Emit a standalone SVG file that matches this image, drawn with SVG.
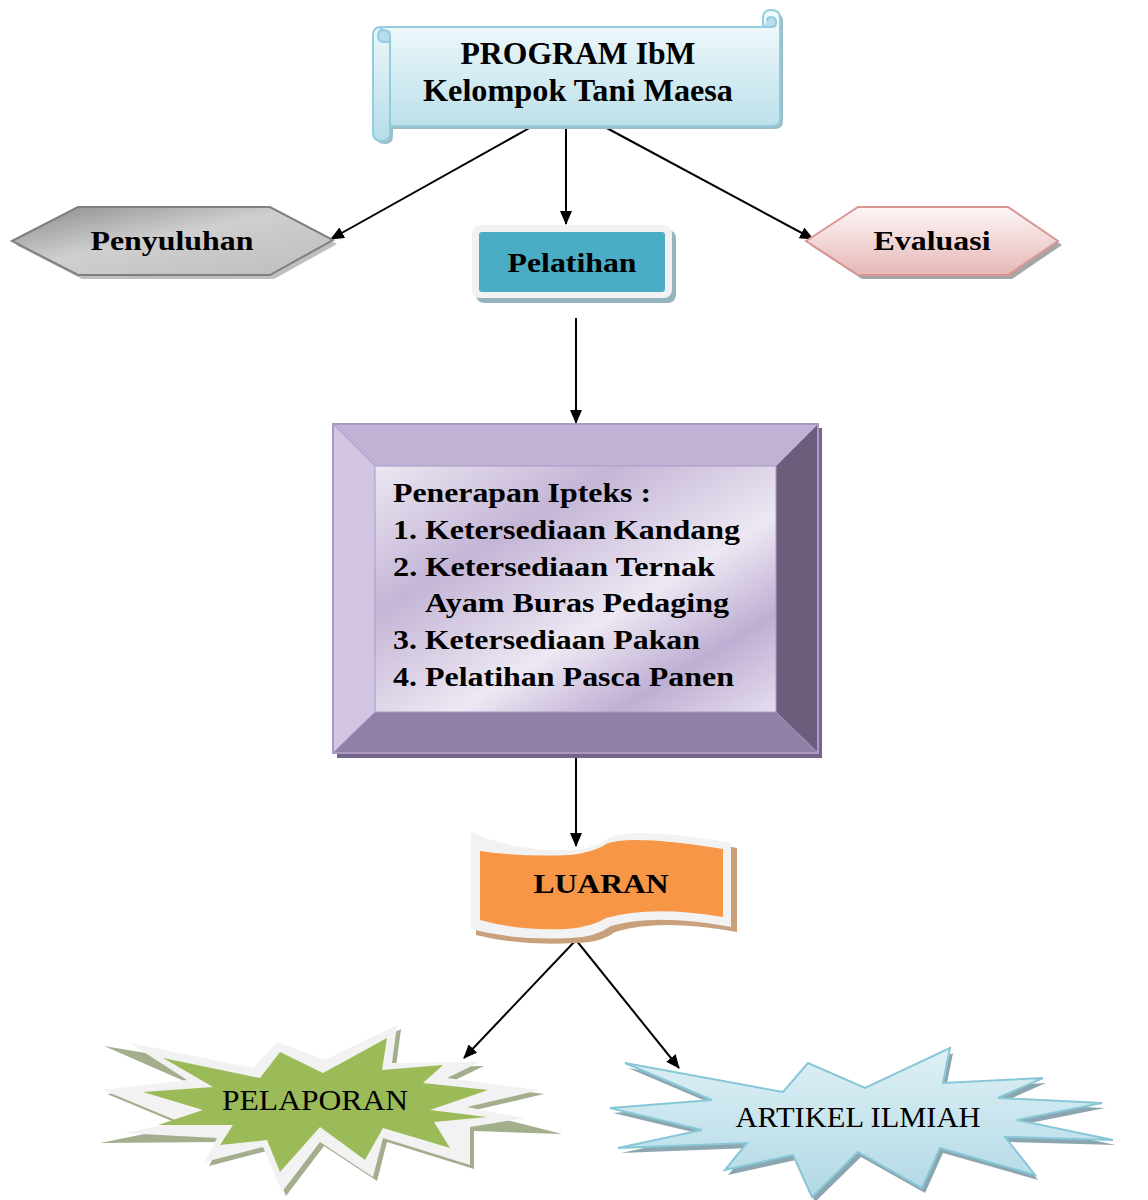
<svg xmlns="http://www.w3.org/2000/svg" width="1148" height="1200" viewBox="0 0 1148 1200">
<defs>
<style>
.tb{font-family:"Liberation Serif","Times New Roman",serif;font-weight:bold;fill:#000}
.tr{font-family:"Liberation Serif","Times New Roman",serif;fill:#000}
.con{stroke:#000;stroke-width:2;fill:none}
</style>
<marker id="ah" viewBox="0 0 14 12" refX="13" refY="6" markerWidth="14" markerHeight="12" markerUnits="userSpaceOnUse" orient="auto">
<path d="M0,0 L14,6 L0,12 Z" fill="#000"/>
</marker>
<linearGradient id="gScroll" x1="0" y1="0" x2="0" y2="1">
<stop offset="0" stop-color="#f4fbfd"/>
<stop offset="1" stop-color="#b6dde8"/>
</linearGradient>
<linearGradient id="gGray" x1="0" y1="0" x2="1" y2="1">
<stop offset="0" stop-color="#8a8a8a"/>
<stop offset="0.45" stop-color="#cfcfcf"/>
<stop offset="1" stop-color="#bdbdbd"/>
</linearGradient>
<linearGradient id="gPink" x1="0" y1="0" x2="0" y2="1">
<stop offset="0" stop-color="#fdf6f6"/>
<stop offset="1" stop-color="#e5b8b7"/>
</linearGradient>
<linearGradient id="gInner" x1="0" y1="0" x2="1" y2="1">
<stop offset="0" stop-color="#ece7f2"/>
<stop offset="0.3" stop-color="#c4b5d6"/>
<stop offset="0.6" stop-color="#ede8f3"/>
<stop offset="0.8" stop-color="#bfaed3"/>
<stop offset="1" stop-color="#e5deee"/>
</linearGradient>
<linearGradient id="gBlue" x1="0" y1="0" x2="0" y2="1">
<stop offset="0" stop-color="#def0f5"/>
<stop offset="1" stop-color="#b2d9e5"/>
</linearGradient>
</defs>

<g id="connectors">
<line class="con" x1="533" y1="126" x2="331" y2="239" marker-end="url(#ah)"/>
<line class="con" x1="566" y1="126" x2="566" y2="224" marker-end="url(#ah)"/>
<line class="con" x1="603" y1="126" x2="813" y2="239" marker-end="url(#ah)"/>
<line class="con" x1="576" y1="318" x2="576" y2="423" marker-end="url(#ah)"/>
<line class="con" x1="576" y1="757" x2="576" y2="846" marker-end="url(#ah)"/>
<line class="con" x1="576" y1="940" x2="464" y2="1058" marker-end="url(#ah)"/>
<line class="con" x1="576" y1="940" x2="679" y2="1068" marker-end="url(#ah)"/>
</g>

<g id="program">
<path d="M384,34 Q384,30 388,30 L766,30 L766,21 Q766,13 774,13 Q783,13 783,21 L783,121 Q783,129 775,129 L393,129 L393,136 Q393,144 385,144 Q376,144 376,136 L376,38 Q376,30 384,30 Z" fill="#9fbcc6"/>
<path d="M381,31 Q381,27 385,27 L763,27 L763,18 Q763,10 771,10 Q780,10 780,18 L780,118 Q780,126 772,126 L390,126 L390,133 Q390,141 382,141 Q373,141 373,133 L373,35 Q373,27 381,27 Z" fill="url(#gScroll)" stroke="#93cddd" stroke-width="2"/>
<path d="M763,27 L772,27 Q776,27 776,22 Q776,17 771,17 Q767,17 767,21" fill="#b6dde8" stroke="#93cddd" stroke-width="2"/>
<path d="M390,126 L390,36 Q390,30 383,30 Q378,30 378,36 Q378,42 384,42 L390,42" fill="#b6dde8" stroke="#93cddd" stroke-width="2"/>
<text class="tb" x="578" y="64" font-size="31" text-anchor="middle" textLength="235" lengthAdjust="spacingAndGlyphs">PROGRAM IbM</text>
<text class="tb" x="578" y="101" font-size="31" text-anchor="middle" textLength="310" lengthAdjust="spacingAndGlyphs">Kelompok Tani Maesa</text>
</g>

<g id="penyuluhan">
<polygon points="16,245 82,211 274,211 337,244 274,279 82,279" fill="#bfbfbf"/>
<polygon points="12,241 78,207 270,207 333,240 270,275 78,275" fill="url(#gGray)" stroke="#7f7f7f" stroke-width="2"/>
<text class="tb" x="172" y="250" font-size="28" text-anchor="middle" textLength="163" lengthAdjust="spacingAndGlyphs">Penyuluhan</text>
</g>

<g id="pelatihan">
<rect x="476" y="230" width="200" height="73" rx="8" fill="#93b3bf"/>
<rect x="472" y="225" width="200" height="73" rx="8" fill="#f2f2f2"/>
<rect x="479" y="232" width="186" height="60" rx="3" fill="#4bacc6"/>
<text class="tb" x="572" y="272" font-size="28" text-anchor="middle" textLength="129" lengthAdjust="spacingAndGlyphs">Pelatihan</text>
</g>

<g id="evaluasi">
<polygon points="810,245 862,211 1012,211 1062,245 1012,279 862,279" fill="#a6a6a6"/>
<polygon points="806,241 858,207 1008,207 1058,241 1008,275 858,275" fill="url(#gPink)" stroke="#d99694" stroke-width="2"/>
<text class="tb" x="932" y="250" font-size="28" text-anchor="middle" textLength="117" lengthAdjust="spacingAndGlyphs">Evaluasi</text>
</g>

<g id="penerapan">
<rect x="337" y="428" width="485" height="330" fill="#75658a"/>
<polygon points="333,424 818,424 776,466 375,466" fill="#c0b1d5"/>
<polygon points="333,424 375,466 375,712 333,753" fill="#d1c5e1"/>
<polygon points="818,424 818,753 776,712 776,466" fill="#6d5d7c"/>
<polygon points="333,753 375,712 776,712 818,753" fill="#8f80a5"/>
<rect x="375" y="466" width="401" height="246" fill="url(#gInner)"/>
<rect x="333" y="424" width="485" height="329" fill="none" stroke="#a999c4" stroke-width="2"/>
<g stroke="#a999c4" stroke-width="1">
<line x1="333" y1="424" x2="375" y2="466"/><line x1="818" y1="424" x2="776" y2="466"/>
<line x1="333" y1="753" x2="375" y2="712"/><line x1="818" y1="753" x2="776" y2="712"/>
<rect x="375" y="466" width="401" height="246" fill="none"/>
</g>
<text class="tb" font-size="28" x="393" y="502" textLength="258" lengthAdjust="spacingAndGlyphs">Penerapan Ipteks :</text>
<text class="tb" font-size="28" x="393" y="539" textLength="347" lengthAdjust="spacingAndGlyphs">1. Ketersediaan Kandang</text>
<text class="tb" font-size="28" x="393" y="576" textLength="322" lengthAdjust="spacingAndGlyphs">2. Ketersediaan Ternak</text>
<text class="tb" font-size="28" x="425" y="612" textLength="304" lengthAdjust="spacingAndGlyphs">Ayam Buras Pedaging</text>
<text class="tb" font-size="28" x="393" y="649" textLength="307" lengthAdjust="spacingAndGlyphs">3. Ketersediaan Pakan</text>
<text class="tb" font-size="28" x="393" y="686" textLength="341" lengthAdjust="spacingAndGlyphs">4. Pelatihan Pasca Panen</text>
</g>

<g id="luaran">
<path d="M476,838 Q520,858 575,855 Q600,853 612,843 Q640,830 737,848 L737,932 Q660,918 615,932 Q600,943 575,943 Q520,946 476,935 Z" fill="#c9a07c"/>
<path d="M471,832 Q515,852 572,850 Q597,848 608,838 Q636,826 731,843 L731,927 Q656,913 611,926 Q596,937 571,938 Q516,941 471,929 Z" fill="#f2f2f2"/>
<path d="M480,851 Q520,857 570,855 Q595,852 606,844 Q630,834 723,849 L723,917 Q652,905 606,918 Q592,927 566,929 Q520,931 480,920 Z" fill="#f79646"/>
<text class="tb" x="601" y="893" font-size="28" text-anchor="middle" textLength="135" lengthAdjust="spacingAndGlyphs">LUARAN</text>
</g>

<g id="pelaporan">
<polygon points="104,1046 257,1072 281,1046 329,1064 401,1029 396,1067 484,1066 451,1082 544,1094 471,1111 562,1134 474,1131 474,1169 387,1142 377,1181 324,1146 286,1196 267,1151 209,1166 221,1142 100,1143 184,1126 107,1094 191,1084" fill="#a3ae8d"/>
<polygon points="130,1043 253,1068 277,1042 325,1060 397,1025 392,1063 480,1062 447,1078 540,1090 467,1107 525,1118 470,1127 470,1165 383,1138 373,1177 320,1142 282,1192 263,1147 205,1162 217,1138 123,1133 180,1122 103,1090 187,1080" fill="#f2f2f2"/>
<polygon points="163,1058 260,1078 280,1052 323,1073 387,1038 382,1070 443,1065 423,1083 488,1090 430,1110 487,1117 434,1122 450,1148 383,1128 365,1160 320,1127 280,1172 267,1140 220,1145 233,1125 158,1125 203,1110 143,1092 213,1087" fill="#9bbb59"/>
<text class="tr" x="315" y="1110" font-size="30" text-anchor="middle" textLength="186" lengthAdjust="spacingAndGlyphs">PELAPORAN</text>
</g>

<g id="artikel">
<polygon points="628,1068 786,1097 811,1068 868,1093 953,1053 946,1088 1046,1083 1001,1103 1105,1108 1020,1125 1116,1145 1008,1142 1038,1180 943,1153 925,1193 861,1157 815,1202 796,1160 728,1175 750,1148 621,1153 705,1135 613,1113 715,1105" fill="#8ca6b0"/>
<polygon points="625,1063 783,1092 808,1063 865,1088 950,1048 943,1083 1043,1078 998,1098 1102,1103 1017,1120 1113,1140 1005,1137 1035,1175 940,1148 922,1188 858,1152 812,1197 793,1155 725,1170 747,1143 618,1148 702,1130 610,1108 712,1100" fill="url(#gBlue)" stroke="#87c7d8" stroke-width="2" stroke-linejoin="miter"/>
<text class="tr" x="858" y="1127" font-size="30" text-anchor="middle" textLength="245" lengthAdjust="spacingAndGlyphs">ARTIKEL ILMIAH</text>
</g>
</svg>
